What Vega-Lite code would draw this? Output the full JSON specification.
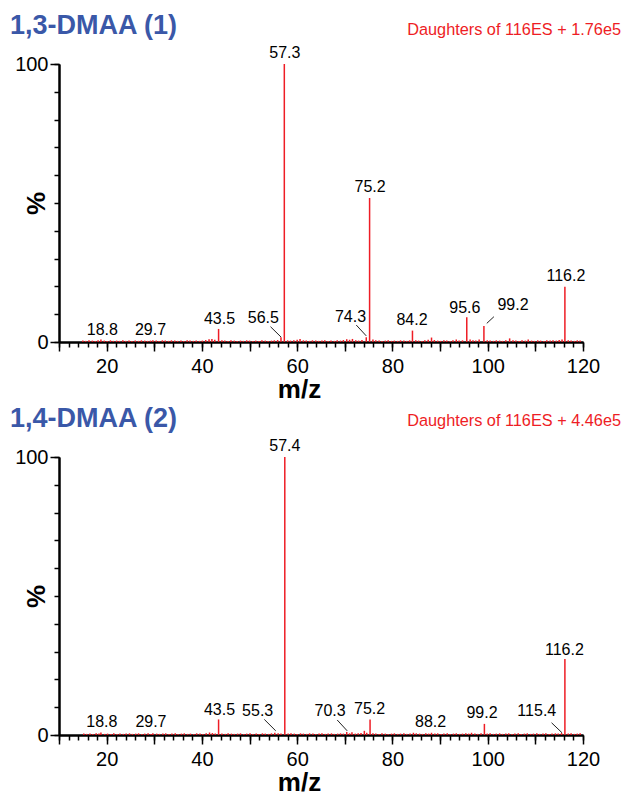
{
  "$schema": "https://vega.github.io/schema/vega-lite/v6.json",
  "padding": {"left": 10, "top": 12, "right": 0, "bottom": 0},
  "background": "white",
  "config": {
    "view": {"stroke": null},
    "font": "Liberation Sans",
    "axis": {"grid": false, "domainColor": "black", "tickColor": "black", "labelColor": "black", "titleColor": "black", "zindex": 1}
  },
  "datasets": {
    "peaks": [
      {"panel":1,"mz":15.0,"pct":0.5},{"panel":1,"mz":15.6,"pct":0.4},{"panel":1,"mz":16.3,"pct":0.6},{"panel":1,"mz":17.0,"pct":0.5},{"panel":1,"mz":17.6,"pct":0.4},{"panel":1,"mz":18.2,"pct":0.6},{"panel":1,"mz":18.8,"pct":0.9},{"panel":1,"mz":19.5,"pct":0.5},{"panel":1,"mz":20.1,"pct":0.4},{"panel":1,"mz":20.8,"pct":0.6},{"panel":1,"mz":21.4,"pct":0.4},{"panel":1,"mz":22.1,"pct":0.5},{"panel":1,"mz":22.7,"pct":0.4},{"panel":1,"mz":23.4,"pct":0.6},{"panel":1,"mz":24.0,"pct":0.4},{"panel":1,"mz":24.7,"pct":0.5},{"panel":1,"mz":25.3,"pct":0.4},{"panel":1,"mz":26.0,"pct":0.5},{"panel":1,"mz":26.7,"pct":0.4},{"panel":1,"mz":27.3,"pct":0.6},{"panel":1,"mz":28.0,"pct":0.5},{"panel":1,"mz":28.6,"pct":0.4},{"panel":1,"mz":29.2,"pct":0.5},{"panel":1,"mz":29.7,"pct":0.6},{"panel":1,"mz":30.4,"pct":0.5},{"panel":1,"mz":31.0,"pct":0.4},{"panel":1,"mz":31.7,"pct":0.6},{"panel":1,"mz":32.3,"pct":0.5},{"panel":1,"mz":33.0,"pct":0.4},{"panel":1,"mz":33.6,"pct":0.6},{"panel":1,"mz":34.3,"pct":0.5},{"panel":1,"mz":34.9,"pct":0.4},{"panel":1,"mz":35.6,"pct":0.5},{"panel":1,"mz":36.2,"pct":0.4},{"panel":1,"mz":36.9,"pct":0.6},{"panel":1,"mz":37.5,"pct":0.5},{"panel":1,"mz":38.2,"pct":0.4},{"panel":1,"mz":38.8,"pct":0.5},{"panel":1,"mz":39.5,"pct":0.4},{"panel":1,"mz":40.1,"pct":0.5},{"panel":1,"mz":40.8,"pct":0.7},{"panel":1,"mz":41.5,"pct":1.0},{"panel":1,"mz":42.1,"pct":1.1},{"panel":1,"mz":42.7,"pct":0.8},{"panel":1,"mz":43.5,"pct":4.7},{"panel":1,"mz":44.2,"pct":0.6},{"panel":1,"mz":44.8,"pct":0.5},{"panel":1,"mz":45.5,"pct":0.4},{"panel":1,"mz":46.1,"pct":0.6},{"panel":1,"mz":46.8,"pct":0.5},{"panel":1,"mz":47.4,"pct":0.4},{"panel":1,"mz":48.1,"pct":0.5},{"panel":1,"mz":48.7,"pct":0.4},{"panel":1,"mz":49.4,"pct":0.6},{"panel":1,"mz":50.0,"pct":0.5},{"panel":1,"mz":50.7,"pct":0.4},{"panel":1,"mz":51.3,"pct":0.5},{"panel":1,"mz":52.0,"pct":0.4},{"panel":1,"mz":52.6,"pct":0.6},{"panel":1,"mz":53.3,"pct":0.5},{"panel":1,"mz":53.9,"pct":0.4},{"panel":1,"mz":54.6,"pct":0.5},{"panel":1,"mz":55.2,"pct":0.6},{"panel":1,"mz":55.9,"pct":0.7},{"panel":1,"mz":56.6,"pct":1.7},{"panel":1,"mz":57.3,"pct":100},{"panel":1,"mz":58.0,"pct":0.6},{"panel":1,"mz":58.6,"pct":0.5},{"panel":1,"mz":59.3,"pct":0.6},{"panel":1,"mz":60.0,"pct":0.8},{"panel":1,"mz":60.6,"pct":1.1},{"panel":1,"mz":61.3,"pct":0.6},{"panel":1,"mz":61.9,"pct":0.5},{"panel":1,"mz":62.6,"pct":0.4},{"panel":1,"mz":63.2,"pct":0.6},{"panel":1,"mz":63.9,"pct":0.5},{"panel":1,"mz":64.5,"pct":0.4},{"panel":1,"mz":65.2,"pct":0.5},{"panel":1,"mz":65.8,"pct":0.6},{"panel":1,"mz":66.5,"pct":0.4},{"panel":1,"mz":67.1,"pct":0.5},{"panel":1,"mz":67.8,"pct":0.4},{"panel":1,"mz":68.4,"pct":0.6},{"panel":1,"mz":69.1,"pct":0.5},{"panel":1,"mz":69.7,"pct":0.7},{"panel":1,"mz":70.4,"pct":1.0},{"panel":1,"mz":71.0,"pct":0.8},{"panel":1,"mz":71.6,"pct":1.1},{"panel":1,"mz":72.3,"pct":0.6},{"panel":1,"mz":72.9,"pct":0.5},{"panel":1,"mz":73.6,"pct":0.7},{"panel":1,"mz":74.5,"pct":1.7},{"panel":1,"mz":75.2,"pct":51.8},{"panel":1,"mz":75.9,"pct":0.9},{"panel":1,"mz":76.5,"pct":0.6},{"panel":1,"mz":77.2,"pct":0.5},{"panel":1,"mz":77.8,"pct":0.4},{"panel":1,"mz":78.5,"pct":0.5},{"panel":1,"mz":79.1,"pct":0.6},{"panel":1,"mz":79.8,"pct":0.4},{"panel":1,"mz":80.4,"pct":0.5},{"panel":1,"mz":81.1,"pct":0.4},{"panel":1,"mz":81.7,"pct":0.6},{"panel":1,"mz":82.4,"pct":0.5},{"panel":1,"mz":83.0,"pct":0.4},{"panel":1,"mz":83.6,"pct":0.6},{"panel":1,"mz":84.2,"pct":4.1},{"panel":1,"mz":84.9,"pct":0.6},{"panel":1,"mz":85.5,"pct":0.5},{"panel":1,"mz":86.2,"pct":0.4},{"panel":1,"mz":86.8,"pct":0.6},{"panel":1,"mz":87.5,"pct":0.8},{"panel":1,"mz":88.2,"pct":1.6},{"panel":1,"mz":88.8,"pct":0.7},{"panel":1,"mz":89.5,"pct":0.5},{"panel":1,"mz":90.1,"pct":0.4},{"panel":1,"mz":90.8,"pct":0.6},{"panel":1,"mz":91.4,"pct":0.5},{"panel":1,"mz":92.1,"pct":0.4},{"panel":1,"mz":92.7,"pct":0.6},{"panel":1,"mz":93.4,"pct":0.9},{"panel":1,"mz":94.0,"pct":0.5},{"panel":1,"mz":94.7,"pct":0.6},{"panel":1,"mz":95.6,"pct":8.9},{"panel":1,"mz":96.3,"pct":0.9},{"panel":1,"mz":96.9,"pct":0.6},{"panel":1,"mz":97.5,"pct":0.5},{"panel":1,"mz":98.2,"pct":0.9},{"panel":1,"mz":99.2,"pct":5.8},{"panel":1,"mz":99.9,"pct":0.6},{"panel":1,"mz":100.5,"pct":0.5},{"panel":1,"mz":101.2,"pct":0.4},{"panel":1,"mz":101.8,"pct":0.6},{"panel":1,"mz":102.5,"pct":0.5},{"panel":1,"mz":103.1,"pct":0.4},{"panel":1,"mz":103.8,"pct":0.6},{"panel":1,"mz":104.6,"pct":1.3},{"panel":1,"mz":105.3,"pct":0.6},{"panel":1,"mz":105.9,"pct":0.5},{"panel":1,"mz":106.6,"pct":0.4},{"panel":1,"mz":107.2,"pct":0.6},{"panel":1,"mz":107.9,"pct":0.5},{"panel":1,"mz":108.5,"pct":0.9},{"panel":1,"mz":109.2,"pct":0.5},{"panel":1,"mz":109.8,"pct":0.4},{"panel":1,"mz":110.5,"pct":0.6},{"panel":1,"mz":111.1,"pct":0.5},{"panel":1,"mz":111.8,"pct":0.4},{"panel":1,"mz":112.4,"pct":0.6},{"panel":1,"mz":113.1,"pct":0.5},{"panel":1,"mz":113.7,"pct":0.6},{"panel":1,"mz":114.4,"pct":0.5},{"panel":1,"mz":115.0,"pct":0.7},{"panel":1,"mz":115.6,"pct":0.9},{"panel":1,"mz":116.2,"pct":19.9},{"panel":1,"mz":116.9,"pct":0.6},{"panel":1,"mz":117.5,"pct":0.5},{"panel":1,"mz":118.2,"pct":0.4},{"panel":1,"mz":118.8,"pct":0.6},{"panel":1,"mz":119.4,"pct":0.5},
      {"panel":2,"mz":15.2,"pct":0.5},{"panel":2,"mz":15.8,"pct":0.4},{"panel":2,"mz":16.5,"pct":0.5},{"panel":2,"mz":17.1,"pct":0.4},{"panel":2,"mz":17.8,"pct":0.6},{"panel":2,"mz":18.4,"pct":0.5},{"panel":2,"mz":18.8,"pct":0.9},{"panel":2,"mz":19.6,"pct":0.4},{"panel":2,"mz":20.2,"pct":0.5},{"panel":2,"mz":20.9,"pct":0.4},{"panel":2,"mz":21.5,"pct":0.6},{"panel":2,"mz":22.2,"pct":0.4},{"panel":2,"mz":22.8,"pct":0.5},{"panel":2,"mz":23.5,"pct":0.4},{"panel":2,"mz":24.1,"pct":0.5},{"panel":2,"mz":24.8,"pct":0.6},{"panel":2,"mz":25.4,"pct":0.4},{"panel":2,"mz":26.1,"pct":0.5},{"panel":2,"mz":26.7,"pct":0.6},{"panel":2,"mz":27.4,"pct":0.4},{"panel":2,"mz":28.0,"pct":0.5},{"panel":2,"mz":28.7,"pct":0.6},{"panel":2,"mz":29.3,"pct":0.4},{"panel":2,"mz":29.7,"pct":0.6},{"panel":2,"mz":30.5,"pct":0.5},{"panel":2,"mz":31.1,"pct":0.4},{"panel":2,"mz":31.8,"pct":0.5},{"panel":2,"mz":32.4,"pct":0.6},{"panel":2,"mz":33.1,"pct":0.4},{"panel":2,"mz":33.7,"pct":0.5},{"panel":2,"mz":34.4,"pct":0.6},{"panel":2,"mz":35.0,"pct":0.4},{"panel":2,"mz":35.7,"pct":0.5},{"panel":2,"mz":36.3,"pct":0.6},{"panel":2,"mz":37.0,"pct":0.4},{"panel":2,"mz":37.6,"pct":0.5},{"panel":2,"mz":38.3,"pct":0.4},{"panel":2,"mz":38.9,"pct":0.6},{"panel":2,"mz":39.6,"pct":0.5},{"panel":2,"mz":40.2,"pct":0.4},{"panel":2,"mz":40.9,"pct":0.6},{"panel":2,"mz":41.6,"pct":0.9},{"panel":2,"mz":42.2,"pct":0.7},{"panel":2,"mz":42.8,"pct":0.5},{"panel":2,"mz":43.5,"pct":5.6},{"panel":2,"mz":44.2,"pct":0.5},{"panel":2,"mz":44.9,"pct":0.4},{"panel":2,"mz":45.5,"pct":0.6},{"panel":2,"mz":46.2,"pct":0.5},{"panel":2,"mz":46.8,"pct":0.4},{"panel":2,"mz":47.5,"pct":0.5},{"panel":2,"mz":48.1,"pct":0.6},{"panel":2,"mz":48.8,"pct":0.4},{"panel":2,"mz":49.4,"pct":0.5},{"panel":2,"mz":50.1,"pct":0.6},{"panel":2,"mz":50.7,"pct":0.4},{"panel":2,"mz":51.4,"pct":0.5},{"panel":2,"mz":52.0,"pct":0.4},{"panel":2,"mz":52.7,"pct":0.6},{"panel":2,"mz":53.3,"pct":0.5},{"panel":2,"mz":54.0,"pct":0.4},{"panel":2,"mz":54.6,"pct":0.6},{"panel":2,"mz":55.3,"pct":0.8},{"panel":2,"mz":56.0,"pct":0.6},{"panel":2,"mz":56.6,"pct":0.5},{"panel":2,"mz":57.4,"pct":100},{"panel":2,"mz":58.1,"pct":0.5},{"panel":2,"mz":58.7,"pct":0.6},{"panel":2,"mz":59.4,"pct":0.5},{"panel":2,"mz":60.0,"pct":0.4},{"panel":2,"mz":60.7,"pct":0.6},{"panel":2,"mz":61.3,"pct":0.5},{"panel":2,"mz":62.0,"pct":0.4},{"panel":2,"mz":62.6,"pct":0.6},{"panel":2,"mz":63.3,"pct":0.5},{"panel":2,"mz":63.9,"pct":0.4},{"panel":2,"mz":64.6,"pct":0.5},{"panel":2,"mz":65.2,"pct":0.6},{"panel":2,"mz":65.9,"pct":0.4},{"panel":2,"mz":66.5,"pct":0.5},{"panel":2,"mz":67.2,"pct":0.6},{"panel":2,"mz":67.8,"pct":0.4},{"panel":2,"mz":68.5,"pct":0.5},{"panel":2,"mz":69.1,"pct":0.6},{"panel":2,"mz":69.7,"pct":0.5},{"panel":2,"mz":70.4,"pct":1.1},{"panel":2,"mz":71.0,"pct":0.6},{"panel":2,"mz":71.5,"pct":1.0},{"panel":2,"mz":72.2,"pct":0.5},{"panel":2,"mz":72.8,"pct":0.6},{"panel":2,"mz":73.4,"pct":0.7},{"panel":2,"mz":74.1,"pct":1.5},{"panel":2,"mz":74.6,"pct":0.8},{"panel":2,"mz":75.3,"pct":5.6},{"panel":2,"mz":75.9,"pct":0.6},{"panel":2,"mz":76.5,"pct":0.5},{"panel":2,"mz":77.2,"pct":0.4},{"panel":2,"mz":77.8,"pct":0.6},{"panel":2,"mz":78.5,"pct":0.5},{"panel":2,"mz":79.1,"pct":0.4},{"panel":2,"mz":79.8,"pct":0.5},{"panel":2,"mz":80.4,"pct":0.6},{"panel":2,"mz":81.1,"pct":0.4},{"panel":2,"mz":81.7,"pct":0.5},{"panel":2,"mz":82.4,"pct":0.6},{"panel":2,"mz":83.0,"pct":0.4},{"panel":2,"mz":83.7,"pct":0.5},{"panel":2,"mz":84.4,"pct":0.8},{"panel":2,"mz":85.0,"pct":0.6},{"panel":2,"mz":85.7,"pct":0.5},{"panel":2,"mz":86.3,"pct":0.4},{"panel":2,"mz":87.0,"pct":0.6},{"panel":2,"mz":87.6,"pct":0.5},{"panel":2,"mz":88.2,"pct":0.8},{"panel":2,"mz":88.9,"pct":0.5},{"panel":2,"mz":89.5,"pct":0.6},{"panel":2,"mz":90.2,"pct":0.4},{"panel":2,"mz":90.8,"pct":0.5},{"panel":2,"mz":91.5,"pct":0.6},{"panel":2,"mz":92.1,"pct":0.4},{"panel":2,"mz":92.8,"pct":0.5},{"panel":2,"mz":93.4,"pct":0.6},{"panel":2,"mz":94.1,"pct":0.4},{"panel":2,"mz":94.7,"pct":0.5},{"panel":2,"mz":95.4,"pct":0.6},{"panel":2,"mz":96.0,"pct":0.5},{"panel":2,"mz":96.6,"pct":0.8},{"panel":2,"mz":97.3,"pct":0.5},{"panel":2,"mz":97.9,"pct":0.4},{"panel":2,"mz":98.6,"pct":0.6},{"panel":2,"mz":99.3,"pct":4.0},{"panel":2,"mz":99.9,"pct":0.5},{"panel":2,"mz":100.5,"pct":0.6},{"panel":2,"mz":101.2,"pct":0.4},{"panel":2,"mz":101.8,"pct":0.5},{"panel":2,"mz":102.5,"pct":0.6},{"panel":2,"mz":103.1,"pct":0.4},{"panel":2,"mz":103.8,"pct":0.5},{"panel":2,"mz":104.4,"pct":0.6},{"panel":2,"mz":105.1,"pct":0.4},{"panel":2,"mz":105.7,"pct":0.5},{"panel":2,"mz":106.4,"pct":0.6},{"panel":2,"mz":107.0,"pct":0.4},{"panel":2,"mz":107.7,"pct":0.5},{"panel":2,"mz":108.3,"pct":0.6},{"panel":2,"mz":109.0,"pct":0.4},{"panel":2,"mz":109.6,"pct":0.5},{"panel":2,"mz":110.3,"pct":0.6},{"panel":2,"mz":110.9,"pct":0.4},{"panel":2,"mz":111.6,"pct":0.5},{"panel":2,"mz":112.2,"pct":0.6},{"panel":2,"mz":112.9,"pct":0.4},{"panel":2,"mz":113.5,"pct":0.5},{"panel":2,"mz":114.2,"pct":0.6},{"panel":2,"mz":114.8,"pct":0.5},{"panel":2,"mz":115.5,"pct":0.7},{"panel":2,"mz":116.2,"pct":27.3},{"panel":2,"mz":116.9,"pct":0.5},{"panel":2,"mz":117.5,"pct":0.6},{"panel":2,"mz":118.2,"pct":0.4},{"panel":2,"mz":118.8,"pct":0.5},{"panel":2,"mz":119.4,"pct":0.6}
    ],
    "labels": [
      {"panel":1,"text":"18.8","mz":19.1,"pct":0.4},
      {"panel":1,"text":"29.7","mz":29.2,"pct":0.4},
      {"panel":1,"text":"43.5","mz":43.7,"pct":4.2},
      {"panel":1,"text":"56.5","mz":52.9,"pct":4.6},
      {"panel":1,"text":"57.3","mz":57.4,"pct":100},
      {"panel":1,"text":"74.3","mz":71.2,"pct":5.1},
      {"panel":1,"text":"75.2","mz":75.3,"pct":51.8},
      {"panel":1,"text":"84.2","mz":84.1,"pct":4.1},
      {"panel":1,"text":"95.6","mz":95.2,"pct":8.2},
      {"panel":1,"text":"99.2","mz":105.3,"pct":9.3},
      {"panel":1,"text":"116.2","mz":116.4,"pct":19.9},
      {"panel":2,"text":"18.8","mz":19.0,"pct":0.6},
      {"panel":2,"text":"29.7","mz":29.3,"pct":0.6},
      {"panel":2,"text":"43.5","mz":43.7,"pct":5.0},
      {"panel":2,"text":"55.3","mz":51.7,"pct":4.7},
      {"panel":2,"text":"57.4","mz":57.4,"pct":100},
      {"panel":2,"text":"70.3","mz":66.9,"pct":4.7},
      {"panel":2,"text":"75.2","mz":75.2,"pct":5.4},
      {"panel":2,"text":"88.2","mz":88.0,"pct":0.6},
      {"panel":2,"text":"99.2","mz":98.8,"pct":3.9},
      {"panel":2,"text":"115.4","mz":110.3,"pct":4.7},
      {"panel":2,"text":"116.2","mz":116.1,"pct":26.6}
    ],
    "leaders": [
      {"panel":1,"mz":54.4,"pct":5.5,"mz2":56.6,"pct2":1.8},
      {"panel":1,"mz":72.4,"pct":6.1,"mz2":74.5,"pct2":2.2},
      {"panel":1,"mz":101.3,"pct":9.1,"mz2":99.8,"pct2":6.7},
      {"panel":2,"mz":53.1,"pct":5.6,"mz2":55.5,"pct2":1.5},
      {"panel":2,"mz":68.4,"pct":5.4,"mz2":70.5,"pct2":1.5},
      {"panel":2,"mz":113.4,"pct":4.4,"mz2":115.6,"pct2":0.8}
    ],
    "headers": [
      {"panel":1,"text":"Daughters of 116ES + 1.76e5"},
      {"panel":2,"text":"Daughters of 116ES + 4.46e5"}
    ]
  },
  "spacing": 115,
  "bounds": "flush",
  "vconcat": [
    {
      "width": 524, "height": 278,
      "title": {"text": "1,3-DMAA (1)", "anchor": "start", "frame": "group", "dx": -49, "offset": -39, "baseline": "alphabetic", "fontSize": 27, "fontWeight": "bold", "color": "#3a58a8", "font": "Liberation Sans"},
      "layer": [
        {
          "data": {"name": "peaks"},
          "transform": [{"filter": "datum.panel === 1"}],
          "mark": {"type": "rule", "color": "#ee1d25", "strokeWidth": 1.5},
          "encoding": {
            "x": {"field": "mz", "type": "quantitative", "scale": {"domain": [10, 120], "nice": false, "zero": false},
                  "axis": {"orient": "bottom", "values": [10,12,14,16,18,20,22,24,26,28,30,32,34,36,38,40,42,44,46,48,50,52,54,56,58,60,62,64,66,68,70,72,74,76,78,80,82,84,86,88,90,92,94,96,98,100,102,104,106,108,110,112,114,116,118,120], "tickSize": 5, "tickWidth": 1.5, "domainWidth": 2, "labels": false, "title": null}},
            "y": {"field": "pct", "type": "quantitative", "scale": {"domain": [0, 100], "nice": false},
                  "axis": {"orient": "left", "values": [0,10,20,30,40,50,60,70,80,90,100], "tickSize": 5, "tickWidth": 1.5, "domainWidth": 2, "labels": false, "title": null}},
            "y2": {"datum": 0}
          }
        },
        {
          "data": {"name": "labels"},
          "transform": [{"filter": "datum.panel === 1"}],
          "mark": {"type": "text", "fontSize": 16, "dy": -6, "baseline": "alphabetic", "align": "center", "color": "black", "font": "Liberation Sans"},
          "encoding": {
            "x": {"field": "mz", "type": "quantitative",
                  "axis": {"orient": "bottom", "values": [10,20,30,40,50,60,70,80,90,100,110,120], "tickSize": 9, "tickWidth": 1.5, "domainWidth": 2, "labelExpr": "datum.value % 20 === 0 ? datum.label : ''", "labelFontSize": 20, "labelPadding": 5, "labelFlush": false, "labelOverlap": false, "title": "m/z", "titleFontSize": 26, "titleFontWeight": "bold", "titleX": 240, "titleY": 55, "titleBaseline": "alphabetic", "titleAlign": "center"}},
            "y": {"field": "pct", "type": "quantitative",
                  "axis": {"orient": "left", "values": [0, 100], "tickSize": 9, "tickWidth": 1.5, "domainWidth": 2, "labelFontSize": 20, "labelPadding": 2, "labelFlush": false, "labelOverlap": false, "title": "%", "titleFontSize": 26, "titleFontWeight": "bold", "titleX": -23, "titleY": 139, "titleAngle": 270, "titleBaseline": "middle", "titleAlign": "center"}},
            "text": {"field": "text"}
          }
        },
        {
          "data": {"name": "leaders"},
          "transform": [{"filter": "datum.panel === 1"}],
          "mark": {"type": "rule", "color": "#222222", "strokeWidth": 1},
          "encoding": {
            "x": {"field": "mz", "type": "quantitative", "axis": null},
            "y": {"field": "pct", "type": "quantitative", "axis": null},
            "x2": {"field": "mz2"},
            "y2": {"field": "pct2"}
          }
        },
        {
          "data": {"name": "headers"},
          "transform": [{"filter": "datum.panel === 1"}],
          "mark": {"type": "text", "align": "right", "baseline": "alphabetic", "dx": 38, "dy": -29, "fontSize": 16.3, "color": "#ee1d25", "font": "Liberation Sans"},
          "encoding": {
            "x": {"datum": 120, "type": "quantitative", "axis": null},
            "y": {"datum": 100, "type": "quantitative", "axis": null},
            "text": {"field": "text"}
          }
        }
      ],
      "resolve": {"axis": {"x": "independent", "y": "independent"}}
    },
    {
      "width": 524, "height": 278,
      "title": {"text": "1,4-DMAA (2)", "anchor": "start", "frame": "group", "dx": -49, "offset": -41, "baseline": "alphabetic", "fontSize": 27, "fontWeight": "bold", "color": "#3a58a8", "font": "Liberation Sans"},
      "layer": [
        {
          "data": {"name": "peaks"},
          "transform": [{"filter": "datum.panel === 2"}],
          "mark": {"type": "rule", "color": "#ee1d25", "strokeWidth": 1.5},
          "encoding": {
            "x": {"field": "mz", "type": "quantitative", "scale": {"domain": [10, 120], "nice": false, "zero": false},
                  "axis": {"orient": "bottom", "values": [10,12,14,16,18,20,22,24,26,28,30,32,34,36,38,40,42,44,46,48,50,52,54,56,58,60,62,64,66,68,70,72,74,76,78,80,82,84,86,88,90,92,94,96,98,100,102,104,106,108,110,112,114,116,118,120], "tickSize": 5, "tickWidth": 1.5, "domainWidth": 2, "labels": false, "title": null}},
            "y": {"field": "pct", "type": "quantitative", "scale": {"domain": [0, 100], "nice": false},
                  "axis": {"orient": "left", "values": [0,10,20,30,40,50,60,70,80,90,100], "tickSize": 5, "tickWidth": 1.5, "domainWidth": 2, "labels": false, "title": null}},
            "y2": {"datum": 0}
          }
        },
        {
          "data": {"name": "labels"},
          "transform": [{"filter": "datum.panel === 2"}],
          "mark": {"type": "text", "fontSize": 16, "dy": -6, "baseline": "alphabetic", "align": "center", "color": "black", "font": "Liberation Sans"},
          "encoding": {
            "x": {"field": "mz", "type": "quantitative",
                  "axis": {"orient": "bottom", "values": [10,20,30,40,50,60,70,80,90,100,110,120], "tickSize": 9, "tickWidth": 1.5, "domainWidth": 2, "labelExpr": "datum.value % 20 === 0 ? datum.label : ''", "labelFontSize": 20, "labelPadding": 5, "labelFlush": false, "labelOverlap": false, "title": "m/z", "titleFontSize": 26, "titleFontWeight": "bold", "titleX": 240, "titleY": 55, "titleBaseline": "alphabetic", "titleAlign": "center"}},
            "y": {"field": "pct", "type": "quantitative",
                  "axis": {"orient": "left", "values": [0, 100], "tickSize": 9, "tickWidth": 1.5, "domainWidth": 2, "labelFontSize": 20, "labelPadding": 2, "labelFlush": false, "labelOverlap": false, "title": "%", "titleFontSize": 26, "titleFontWeight": "bold", "titleX": -23, "titleY": 139, "titleAngle": 270, "titleBaseline": "middle", "titleAlign": "center"}},
            "text": {"field": "text"}
          }
        },
        {
          "data": {"name": "leaders"},
          "transform": [{"filter": "datum.panel === 2"}],
          "mark": {"type": "rule", "color": "#222222", "strokeWidth": 1},
          "encoding": {
            "x": {"field": "mz", "type": "quantitative", "axis": null},
            "y": {"field": "pct", "type": "quantitative", "axis": null},
            "x2": {"field": "mz2"},
            "y2": {"field": "pct2"}
          }
        },
        {
          "data": {"name": "headers"},
          "transform": [{"filter": "datum.panel === 2"}],
          "mark": {"type": "text", "align": "right", "baseline": "alphabetic", "dx": 38, "dy": -31, "fontSize": 16.3, "color": "#ee1d25", "font": "Liberation Sans"},
          "encoding": {
            "x": {"datum": 120, "type": "quantitative", "axis": null},
            "y": {"datum": 100, "type": "quantitative", "axis": null},
            "text": {"field": "text"}
          }
        }
      ],
      "resolve": {"axis": {"x": "independent", "y": "independent"}}
    }
  ]
}
